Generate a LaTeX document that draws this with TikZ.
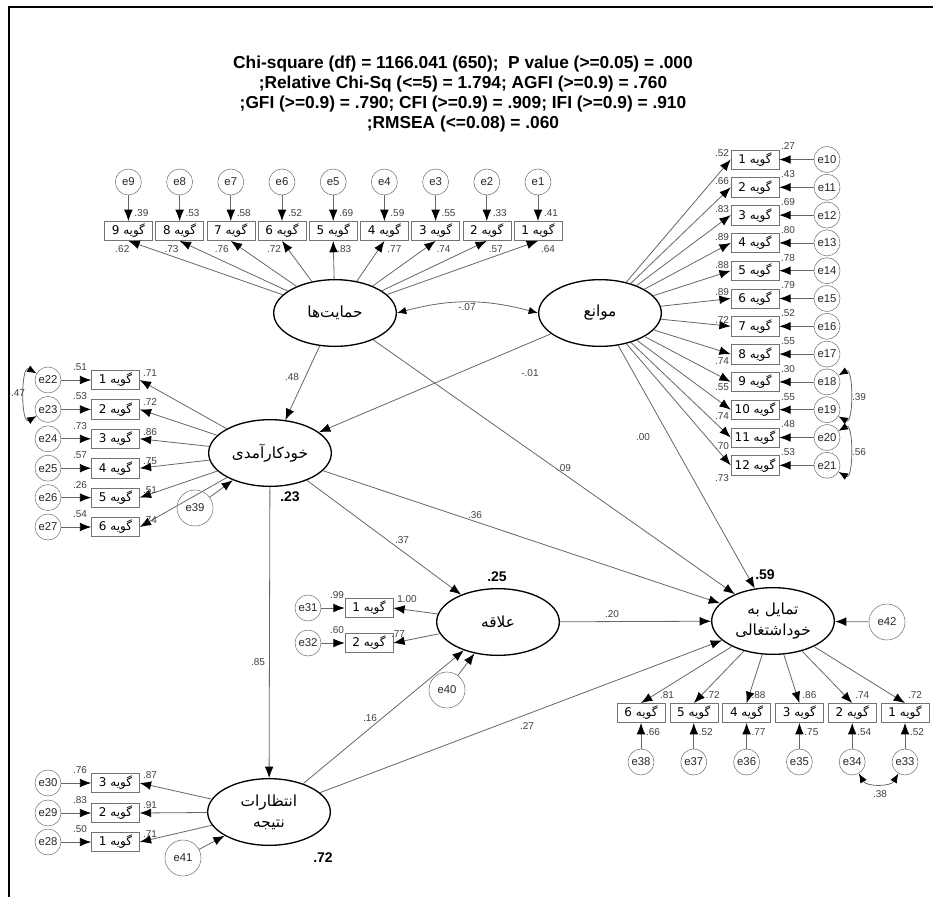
\documentclass[tikz,border=0pt]{standalone}
\usepackage{fontspec}
\setmainfont{Liberation Sans}
\newfontfamily\fafont[Script=Arabic]{DejaVu Sans}
\TeXXeTstate=1
\usetikzlibrary{shapes.geometric, arrows.meta, positioning}

\newcommand{\gw}[1]{{\fafont\beginR گویه \beginL#1\endL\endR}}
\newcommand{\fa}[1]{\beginR #1\endR}

\begin{document}
\begin{tikzpicture}[
    x=0.75pt, y=-0.75pt,
    item/.style={draw=black!55, rectangle, minimum width=36pt, minimum height=14.5pt, inner sep=0pt, font=\fafont\fontsize{9}{10}\selectfont},
    err/.style={draw=black!55, circle, minimum size=19.5pt, inner sep=0pt, font=\fontsize{8.5}{9}\selectfont, text=black!85},
    serr/.style={err, minimum size=27pt},
    lat/.style={draw, ellipse, line width=1pt, minimum width=92pt, minimum height=50pt, inner sep=0pt, align=center, font=\fafont\fontsize{11.5}{16}\selectfont},
    arrow/.style={draw=black!60, line width=0.6pt, -{Latex[length=8.5pt, width=6.5pt, color=black]}},
    corr/.style={draw=black!60, line width=0.6pt, {Latex[length=7pt, width=5.5pt, color=black]}-{Latex[length=7pt, width=5.5pt, color=black]}},
    lbl/.style={inner sep=0pt, font=\fontsize{7.5}{8}\selectfont, text=black!75},
    blbl/.style={inner sep=0pt, font=\bfseries\fontsize{10.5}{12}\selectfont}
]
    \useasboundingbox (0,0) rectangle (933,897);
    \draw[line width=1.6pt] (9,897) -- (9,7) -- (933,7);

    % fit indices
    \node[font=\bfseries\fontsize{13}{15}\selectfont, align=center] (title) at (463,94)
        {Chi-square (df) = 1166.041 (650);\ \ P value (>=0.05) = .000\\
         ;Relative Chi-Sq (<=5) = 1.794; AGFI (>=0.9) = .760\\
         ;GFI (>=0.9) = .790; CFI (>=0.9) = .909; IFI (>=0.9) = .910\\
         ;RMSEA (<=0.08) = .060};

    % latent variables
    \node[lat] (hem) at (335,313) {\fa{حمایت^^^^200cها}};
    \node[lat] (mow) at (600,313) {\fa{موانع}};
    \node[lat] (khod) at (270,453) {\fa{خودکارآمدی}};
    \node[lat] (ala) at (498,622) {\fa{علاقه}};
    \node[lat] (tam) at (773,621) {\fa{تمایل به}\\\fa{خوداشتغالی}};
    \node[lat] (ent) at (269,812) {\fa{انتظارات}\\\fa{نتیجه}};

    % items of hem
    \foreach \i/\v/\l/\dx in {1/.41/.64/10, 2/.33/.57/9, 3/.55/.74/8, 4/.59/.77/10, 5/.69/.83/11,
                              6/.52/.72/-8, 7/.58/.76/-9, 8/.53/.73/-8, 9/.39/.62/-6} {
        \pgfmathsetmacro\xx{538-51.2*(\i-1)}
        \node[item] (ha\i) at (\xx,231) {\gw{\i}};
        \node[err] (e\i) at (\xx,182) {e\i};
        \draw[arrow] (e\i) -- (ha\i);
        \draw[arrow] (hem) -- (ha\i.south);
        \node[lbl] (hv\i) at (\xx+13,213) {\v};
        \node[lbl] (hl\i) at (\xx+\dx,249) {\l};
    }

    % items of mow
    \foreach \i/\v/\l/\dy in {1/.27/.52/-6, 2/.43/.66/-6, 3/.69/.83/-6, 4/.80/.89/-6, 5/.78/.88/-6,
                              6/.79/.89/-6, 7/.52/.72/-6, 8/.55/.74/7, 9/.30/.55/5, 10/.55/.74/6,
                              11/.48/.70/9, 12/.53/.73/13} {
        \pgfmathsetmacro\yy{159.5+27.8*(\i-1)}
        \pgfmathtruncatemacro\en{\i+9}
        \node[item] (mo\i) at (755,\yy) {\gw{\i}};
        \node[err] (e\en) at (827,\yy) {e\en};
        \draw[arrow] (e\en) -- (mo\i);
        \draw[arrow] (mow) -- (mo\i.west);
        \node[lbl] (mv\i) at (788,\yy-13) {\v};
        \node[lbl] (ml\i) at (722,\yy+\dy) {\l};
    }
    \draw[corr] (e18.30) to[out=30, in=-30, looseness=1.1] (e19.-30);
    \draw[corr] (e20.30) to[out=30, in=-30, looseness=1.1] (e21.-30);
    \node[lbl] (c39) at (859,397) {.39};
    \node[lbl] (c56) at (859,452) {.56};

    % items of khod
    \foreach \i/\v/\l in {1/.51/.71, 2/.53/.72, 3/.73/.86, 4/.57/.75, 5/.26/.51, 6/.54/.74} {
        \pgfmathsetmacro\yy{380+29.4*(\i-1)}
        \pgfmathtruncatemacro\en{\i+21}
        \node[item] (kh\i) at (115.5,\yy) {\gw{\i}};
        \node[err] (e\en) at (48,\yy) {e\en};
        \draw[arrow] (e\en) -- (kh\i);
        \draw[arrow] (khod) -- (kh\i.east);
        \node[lbl] (kv\i) at (80,\yy-13) {\v};
        \node[lbl] (kl\i) at (150,\yy-7) {\l};
    }
    \draw[corr] (e22.150) to[out=150, in=-150, looseness=1.1] (e23.-150);
    \node[lbl] (c47) at (18,393) {.47};

    % items of ent
    \foreach \i/\y/\v/\l in {1/842/.50/.71, 2/813/.83/.91, 3/783/.76/.87} {
        \pgfmathtruncatemacro\en{\i+27}
        \node[item] (en\i) at (115.5,\y) {\gw{\i}};
        \node[err] (e\en) at (48,\y) {e\en};
        \draw[arrow] (e\en) -- (en\i);
        \draw[arrow] (ent) -- (en\i.east);
        \node[lbl] (nv\i) at (80,\y-13) {\v};
        \node[lbl] (nl\i) at (150,\y-8) {\l};
    }

    % items of ala
    \foreach \i/\y/\v/\l/\lx in {1/608/.99/1.00/407, 2/643/.60/.77/398} {
        \pgfmathtruncatemacro\en{\i+30}
        \node[item] (al\i) at (369,\y) {\gw{\i}};
        \node[err] (e\en) at (308,\y) {e\en};
        \draw[arrow] (e\en) -- (al\i);
        \draw[arrow] (ala) -- (al\i.east);
        \node[lbl] (av\i) at (337,\y-13) {\v};
        \node[lbl] (aw\i) at (\lx,\y-9) {\l};
    }

    % items of tam
    \foreach \i/\v/\l/\dx in {1/.52/.72/10, 2/.54/.74/10, 3/.75/.86/10, 4/.77/.88/12, 5/.52/.72/19, 6/.66/.81/26} {
        \pgfmathsetmacro\xx{905-52.8*(\i-1)}
        \pgfmathtruncatemacro\en{\i+32}
        \node[item] (ta\i) at (\xx,713) {\gw{\i}};
        \node[err] (e\en) at (\xx,762) {e\en};
        \draw[arrow] (e\en) -- (ta\i);
        \draw[arrow] (tam) -- (ta\i.north);
        \node[lbl] (tv\i) at (\xx+12,732) {\v};
        \node[lbl] (tl\i) at (\xx+\dx,695) {\l};
    }
    \draw[corr] (e34.-60) to[out=-60, in=-120, looseness=1] (e33.-120);
    \node[lbl] (c38) at (880,794) {.38};

    % structural errors
    \node[serr] (e39) at (195,508) {e39};
    \node[serr] (e40) at (447,690) {e40};
    \node[serr] (e41) at (183,858) {e41};
    \node[serr] (e42) at (887,622) {e42};
    \draw[arrow] (e39) -- (khod);
    \draw[arrow] (e40) -- (ala);
    \draw[arrow] (e41) -- (ent);
    \draw[arrow] (e42) -- (tam);

    % structural paths
    \draw[corr] (hem.east) to[bend left=15] (mow.west);
    \draw[arrow] (hem) -- (khod);
    \draw[arrow] (mow) -- (khod);
    \draw[arrow] (hem) -- (tam);
    \draw[arrow] (mow) -- (tam);
    \draw[arrow] (khod) -- (tam);
    \draw[arrow] (khod) -- (ala);
    \draw[arrow] (khod) -- (ent);
    \draw[arrow] (ala) -- (tam);
    \draw[arrow] (ent) -- (ala);
    \draw[arrow] (ent) -- (tam);

    \node[lbl] (p1) at (467,307) {-.07};
    \node[lbl] (p2) at (292,377) {.48};
    \node[lbl] (p3) at (530,373) {-.01};
    \node[lbl] (p4) at (643,437) {.00};
    \node[lbl] (p5) at (564,468) {.09};
    \node[lbl] (p6) at (475,515) {.36};
    \node[lbl] (p7) at (402,540) {.37};
    \node[lbl] (p8) at (258,662) {.85};
    \node[lbl] (p9) at (612,614) {.20};
    \node[lbl] (p10) at (370,718) {.16};
    \node[lbl] (p11) at (527,726) {.27};

    % squared multiple correlations
    \node[blbl] (r1) at (290,497) {.23};
    \node[blbl] (r2) at (497,577) {.25};
    \node[blbl] (r3) at (765,575) {.59};
    \node[blbl] (r4) at (323,858) {.72};
\end{tikzpicture}
\end{document}
